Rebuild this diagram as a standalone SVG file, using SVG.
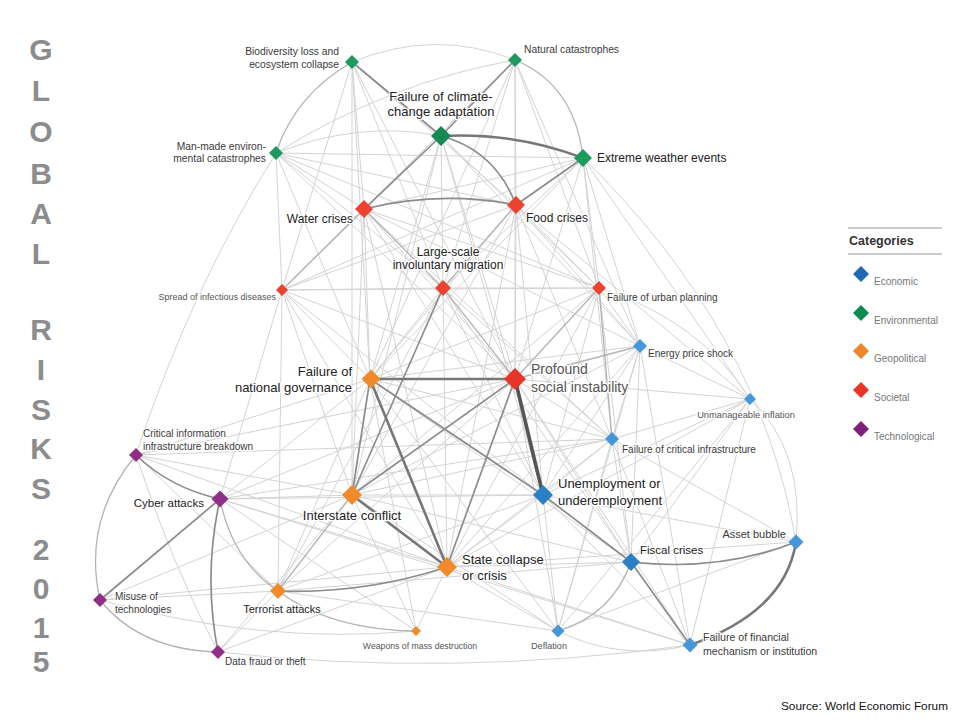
<svg xmlns="http://www.w3.org/2000/svg" width="960" height="720" viewBox="0 0 960 720">
<style>
  text { font-family: "Liberation Sans", Arial, sans-serif; }
  .title { font-size: 30px; font-weight: bold; fill: #8c8c8c; text-anchor: middle; }
  .lb, .lm, .ls, .soc { stroke: #fff; stroke-width: 2.5; stroke-linejoin: round; paint-order: stroke; }
  .lb { font-size: 12.5px; fill: #222; }
  .lm { font-size: 10.3px; fill: #3a3a3a; }
  .ls { font-size: 9px; fill: #555; }
  .soc { font-size: 14px; fill: #555; }
  .env { fill: #1d9a5e; }
  .envd { fill: #128a52; }
  .sct { fill: #ec4331; }
  .geo { fill: #f08a2b; }
  .eco { fill: #2b7fc4; }
  .eco2 { fill: #4597d9; }
  .tec { fill: #902f86; }
  #connectors path { fill: none; }
  .l { stroke: #d3d3d3; stroke-width: 1; }
  .m { stroke: #b3b3b3; stroke-width: 1.3; }
  .d { stroke: #8c8c8c; stroke-width: 1.7; }
  .t { stroke: #777; stroke-width: 2.6; }
  .x { stroke: #555; stroke-width: 3.6; }
  .leg { font-size: 10px; fill: #777; }
</style>

<g id="title">
  <text class="title" x="41" y="60">G</text>
  <text class="title" x="41" y="101">L</text>
  <text class="title" x="41" y="142">O</text>
  <text class="title" x="41" y="184">B</text>
  <text class="title" x="41" y="224">A</text>
  <text class="title" x="41" y="264">L</text>
  <text class="title" x="41" y="340">R</text>
  <text class="title" x="41" y="380">I</text>
  <text class="title" x="41" y="420">S</text>
  <text class="title" x="41" y="459">K</text>
  <text class="title" x="41" y="499">S</text>
  <text class="title" x="41" y="560">2</text>
  <text class="title" x="41" y="599">0</text>
  <text class="title" x="41" y="638">1</text>
  <text class="title" x="41" y="672">5</text>
</g>

<g id="connectors">
  <!-- light -->
  <path class="l" d="M352,62 L364,209"/>
  <path class="l" d="M352,62 L516,205"/>
  <path class="l" d="M352,62 L443,288"/>
  <path class="l" d="M352,62 L370,379"/>
  <path class="l" d="M352,62 L515,379"/>
  <path class="l" d="M352,62 L352,495"/>
  <path class="l" d="M352,62 L282,290"/>
  <path class="l" d="M352,62 Q435,28 515,60"/>
  <path class="l" d="M515,60 Q390,82 276,153"/>
  <path class="l" d="M515,60 L364,209"/>
  <path class="l" d="M515,60 L516,205"/>
  <path class="l" d="M515,60 L443,288"/>
  <path class="l" d="M515,60 L599,288"/>
  <path class="l" d="M515,60 L515,379"/>
  <path class="l" d="M515,60 L282,290"/>
  <path class="l" d="M515,60 L370,379"/>
  <path class="l" d="M515,60 L640,346"/>
  <path class="l" d="M441,136 Q360,120 276,153"/>
  <path class="l" d="M441,136 L443,288"/>
  <path class="l" d="M441,136 L515,379"/>
  <path class="l" d="M441,136 L599,288"/>
  <path class="l" d="M441,136 L282,290"/>
  <path class="l" d="M441,136 L370,379"/>
  <path class="l" d="M441,136 L640,346"/>
  <path class="l" d="M441,136 L352,495"/>
  <path class="l" d="M441,136 L543,495"/>
  <path class="l" d="M583,158 L276,153"/>
  <path class="l" d="M583,158 L364,209"/>
  <path class="l" d="M583,158 L443,288"/>
  <path class="l" d="M583,158 L599,288"/>
  <path class="l" d="M583,158 L640,346"/>
  <path class="l" d="M583,158 L282,290"/>
  <path class="l" d="M583,158 L515,379"/>
  <path class="l" d="M583,158 L612,439"/>
  <path class="l" d="M583,158 L370,379"/>
  <path class="l" d="M583,158 Q760,330 796,542"/>
  <path class="l" d="M583,158 L750,399"/>
  <path class="l" d="M276,153 L364,209"/>
  <path class="l" d="M276,153 L516,205"/>
  <path class="l" d="M276,153 L443,288"/>
  <path class="l" d="M276,153 L282,290"/>
  <path class="l" d="M276,153 L515,379"/>
  <path class="l" d="M276,153 L370,379"/>
  <path class="l" d="M276,153 L599,288"/>
  <path class="l" d="M364,209 L515,379"/>
  <path class="l" d="M364,209 L370,379"/>
  <path class="l" d="M364,209 L352,495"/>
  <path class="l" d="M364,209 L599,288"/>
  <path class="l" d="M364,209 L447,567"/>
  <path class="l" d="M364,209 L543,495"/>
  <path class="l" d="M364,209 L640,346"/>
  <path class="l" d="M364,209 L612,439"/>
  <path class="l" d="M516,205 L515,379"/>
  <path class="l" d="M516,205 L370,379"/>
  <path class="l" d="M516,205 L599,288"/>
  <path class="l" d="M516,205 L640,346"/>
  <path class="l" d="M516,205 L282,290"/>
  <path class="l" d="M516,205 L352,495"/>
  <path class="l" d="M516,205 L447,567"/>
  <path class="l" d="M516,205 L543,495"/>
  <path class="l" d="M516,205 L750,399"/>
  <path class="l" d="M516,205 L612,439"/>
  <path class="l" d="M443,288 L282,290"/>
  <path class="l" d="M443,288 L599,288"/>
  <path class="l" d="M443,288 L370,379"/>
  <path class="l" d="M443,288 L447,567"/>
  <path class="l" d="M443,288 L543,495"/>
  <path class="l" d="M443,288 L278,591"/>
  <path class="l" d="M443,288 L612,439"/>
  <path class="l" d="M443,288 L631,562"/>
  <path class="l" d="M282,290 L370,379"/>
  <path class="l" d="M282,290 L515,379"/>
  <path class="l" d="M282,290 L352,495"/>
  <path class="l" d="M282,290 L278,591"/>
  <path class="l" d="M282,290 L220,499"/>
  <path class="l" d="M282,290 L599,288"/>
  <path class="l" d="M282,290 L543,495"/>
  <path class="l" d="M282,290 L447,567"/>
  <path class="l" d="M599,288 L640,346"/>
  <path class="l" d="M599,288 L543,495"/>
  <path class="l" d="M599,288 L370,379"/>
  <path class="l" d="M599,288 L352,495"/>
  <path class="l" d="M599,288 Q700,320 750,399"/>
  <path class="l" d="M599,288 L631,562"/>
  <path class="l" d="M599,288 L447,567"/>
  <path class="l" d="M640,346 L612,439"/>
  <path class="l" d="M640,346 L750,399"/>
  <path class="l" d="M640,346 L543,495"/>
  <path class="l" d="M640,346 L631,562"/>
  <path class="l" d="M640,346 L558,631"/>
  <path class="l" d="M640,346 L370,379"/>
  <path class="l" d="M640,346 L447,567"/>
  <path class="l" d="M640,346 L690,645"/>
  <path class="l" d="M640,346 L352,495"/>
  <path class="l" d="M370,379 L278,591"/>
  <path class="l" d="M370,379 L220,499"/>
  <path class="l" d="M370,379 L612,439"/>
  <path class="l" d="M370,379 L631,562"/>
  <path class="l" d="M370,379 L416,631"/>
  <path class="l" d="M370,379 L558,631"/>
  <path class="l" d="M370,379 L136,455"/>
  <path class="l" d="M515,379 L612,439"/>
  <path class="l" d="M515,379 L750,399"/>
  <path class="l" d="M515,379 L278,591"/>
  <path class="l" d="M515,379 L631,562"/>
  <path class="l" d="M515,379 L220,499"/>
  <path class="l" d="M515,379 L558,631"/>
  <path class="l" d="M515,379 L690,645"/>
  <path class="l" d="M750,399 L612,439"/>
  <path class="l" d="M750,399 L543,495"/>
  <path class="l" d="M750,399 L631,562"/>
  <path class="l" d="M750,399 Q805,450 796,542"/>
  <path class="l" d="M750,399 L558,631"/>
  <path class="l" d="M750,399 L690,645"/>
  <path class="l" d="M750,399 L447,567"/>
  <path class="l" d="M612,439 L543,495"/>
  <path class="l" d="M612,439 L136,455"/>
  <path class="l" d="M612,439 L220,499"/>
  <path class="l" d="M612,439 L352,495"/>
  <path class="l" d="M612,439 L631,562"/>
  <path class="l" d="M612,439 L558,631"/>
  <path class="l" d="M612,439 L690,645"/>
  <path class="l" d="M612,439 L447,567"/>
  <path class="l" d="M612,439 L796,542"/>
  <path class="l" d="M136,455 L278,591"/>
  <path class="l" d="M136,455 L352,495"/>
  <path class="l" d="M136,455 L447,567"/>
  <path class="l" d="M136,455 Q190,290 276,153"/>
  <path class="l" d="M136,455 L515,379"/>
  <path class="l" d="M136,455 Q170,560 218,652"/>
  <path class="l" d="M220,499 L352,495"/>
  <path class="l" d="M220,499 L447,567"/>
  <path class="l" d="M220,499 L543,495"/>
  <path class="l" d="M220,499 L690,645"/>
  <path class="l" d="M220,499 L416,631"/>
  <path class="l" d="M352,495 L543,495"/>
  <path class="l" d="M352,495 L416,631"/>
  <path class="l" d="M352,495 L100,600"/>
  <path class="l" d="M352,495 L218,652"/>
  <path class="l" d="M352,495 L631,562"/>
  <path class="l" d="M352,495 L558,631"/>
  <path class="l" d="M543,495 L690,645"/>
  <path class="l" d="M543,495 L558,631"/>
  <path class="l" d="M543,495 L796,542"/>
  <path class="l" d="M543,495 L447,567"/>
  <path class="l" d="M543,495 L278,591"/>
  <path class="l" d="M796,542 L447,567"/>
  <path class="l" d="M796,542 Q690,580 558,631"/>
  <path class="l" d="M631,562 L447,567"/>
  <path class="l" d="M631,562 L278,591"/>
  <path class="l" d="M447,567 L416,631"/>
  <path class="l" d="M447,567 L558,631"/>
  <path class="l" d="M447,567 L690,645"/>
  <path class="l" d="M447,567 L218,652"/>
  <path class="l" d="M447,567 L100,600"/>
  <path class="l" d="M100,600 L278,591"/>
  <path class="l" d="M100,600 Q260,645 416,631"/>
  <path class="l" d="M278,591 L218,652"/>
  <path class="l" d="M278,591 L558,631"/>
  <path class="l" d="M558,631 Q620,662 690,645"/>
  <path class="l" d="M218,652 Q450,678 690,645"/>
  <!-- medium -->
  <path class="m" d="M515,60 Q575,85 583,158"/>
  <path class="m" d="M352,62 Q295,95 276,153"/>
  <path class="m" d="M278,591 Q232,560 220,499"/>
  <path class="m" d="M278,591 Q330,630 416,631"/>
  <path class="m" d="M100,600 Q140,650 218,652"/>
  <path class="m" d="M136,455 Q82,520 100,600"/>
  <path class="m" d="M631,562 Q612,615 558,631"/>
  <path class="m" d="M282,290 L364,209"/>
  <path class="m" d="M599,288 L515,379"/>
  <path class="m" d="M640,346 L515,379"/>
  <path class="m" d="M599,288 L612,439"/>
  <path class="m" d="M516,205 L443,288"/>
  <path class="m" d="M364,209 L443,288"/>
  <path class="m" d="M443,288 L515,379"/>
  <path class="m" d="M352,495 L278,591"/>
  <!-- dark -->
  <path class="d" d="M441,136 L364,209"/>
  <path class="d" d="M441,136 Q495,150 516,205"/>
  <path class="d" d="M364,209 Q440,190 516,205"/>
  <path class="d" d="M583,158 L516,205"/>
  <path class="d" d="M443,288 L352,495"/>
  <path class="d" d="M370,379 L352,495"/>
  <path class="d" d="M370,379 L543,495"/>
  <path class="d" d="M515,379 L352,495"/>
  <path class="d" d="M515,379 L447,567"/>
  <path class="d" d="M543,495 L631,562"/>
  <path class="d" d="M631,562 L690,645"/>
  <path class="d" d="M631,562 Q720,572 796,542"/>
  <path class="d" d="M136,455 Q170,488 220,499"/>
  <path class="d" d="M220,499 Q203,575 218,652"/>
  <path class="d" d="M220,499 L100,600"/>
  <path class="d" d="M278,591 Q365,594 447,567"/>
  <path class="d" d="M352,62 L441,136"/>
  <path class="d" d="M515,60 L441,136"/>
  <!-- thick -->
  <path class="t" d="M441,136 Q515,132 583,158"/>
  <path class="t" d="M370,379 L515,379"/>
  <path class="t" d="M352,495 L447,567"/>
  <path class="t" d="M370,379 L447,567"/>
  <path class="t" d="M796,542 Q785,612 690,645"/>
  <path class="x" d="M515,379 L543,495"/>
</g>

<g id="n-bio"><path class="env" d="M352,55 L359,62 L352,69 L345,62 Z"/>
  <text class="lm" text-anchor="end" x="339" y="54.5">Biodiversity loss and</text>
  <text class="lm" text-anchor="end" x="339" y="68">ecosystem collapse</text></g>
<g id="n-nat"><path class="env" d="M515,53 L522,60 L515,67 L508,60 Z"/>
  <text class="lm" x="524" y="53">Natural catastrophes</text></g>
<g id="n-cca"><path class="envd" d="M441,126 L451,136 L441,146 L431,136 Z"/>
  <text class="lb" style="font-size:13px" text-anchor="middle" x="441" y="100.5">Failure of climate-</text>
  <text class="lb" style="font-size:13px" text-anchor="middle" x="441" y="116">change adaptation</text></g>
<g id="n-ext"><path class="env" d="M583,149 L592,158 L583,167 L574,158 Z"/>
  <text class="lb" style="font-size:12px" x="597" y="162">Extreme weather events</text></g>
<g id="n-man"><path class="env" d="M276,146 L283,153 L276,160 L269,153 Z"/>
  <text class="lm" text-anchor="end" x="266" y="150">Man-made environ-</text>
  <text class="lm" text-anchor="end" x="266" y="161.5">mental catastrophes</text></g>
<g id="n-wat"><path class="sct" d="M364,200 L373,209 L364,218 L355,209 Z"/>
  <text class="lb" style="font-size:12px" text-anchor="end" x="353" y="223">Water crises</text></g>
<g id="n-foo"><path class="sct" d="M516,196 L525,205 L516,214 L507,205 Z"/>
  <text class="lb" style="font-size:12px" x="526" y="221.5">Food crises</text></g>
<g id="n-mig"><path class="sct" d="M443,280 L451,288 L443,296 L435,288 Z"/>
  <text class="lb" style="font-size:12px" text-anchor="middle" x="448" y="255.5">Large-scale</text>
  <text class="lb" style="font-size:12px" text-anchor="middle" x="448" y="268.5">involuntary migration</text></g>
<g id="n-inf"><path class="sct" d="M282,284 L288,290 L282,296 L276,290 Z"/>
  <text class="ls" text-anchor="end" x="276" y="300">Spread of infectious diseases</text></g>
<g id="n-urb"><path class="sct" d="M599,281 L606,288 L599,295 L592,288 Z"/>
  <text class="lm" style="font-size:10px" x="607" y="300.5">Failure of urban planning</text></g>
<g id="n-ene"><path class="eco2" d="M640,339 L647,346 L640,353 L633,346 Z"/>
  <text class="lm" style="font-size:10px" x="648" y="357">Energy price shock</text></g>
<g id="n-gov"><path class="geo" d="M371,369.5 L380.5,379 L371,388.5 L361.5,379 Z"/>
  <text class="lb" style="font-size:13px" text-anchor="end" x="352" y="375.5">Failure of</text>
  <text class="lb" style="font-size:13px" text-anchor="end" x="352" y="391.5">national governance</text></g>
<g id="n-soc"><path class="sct" style="fill:#e8352a" d="M515,368 L526,379 L515,390 L504,379 Z"/>
  <text class="soc" x="531" y="374">Profound</text>
  <text class="soc" x="531" y="391.5">social instability</text></g>
<g id="n-inn"><path class="eco2" d="M750,393 L756,399 L750,405 L744,399 Z"/>
  <text class="ls" style="font-size:9.3px" text-anchor="middle" x="746" y="417.5">Unmanageable inflation</text></g>
<g id="n-cri"><path class="eco2" d="M612,432 L619,439 L612,446 L605,439 Z"/>
  <text class="lm" style="font-size:10px" x="622" y="453">Failure of critical infrastructure</text></g>
<g id="n-cii"><path class="tec" d="M136,448 L143,455 L136,462 L129,455 Z"/>
  <text class="lm" style="font-size:10px" x="143" y="437">Critical information</text>
  <text class="lm" style="font-size:10px" x="143" y="449.5">infrastructure breakdown</text></g>
<g id="n-cyb"><path class="tec" d="M220,490.5 L228.5,499 L220,507.5 L211.5,499 Z"/>
  <text class="lb" style="font-size:11.5px" text-anchor="end" x="204" y="507">Cyber attacks</text></g>
<g id="n-int"><path class="geo" d="M352,485 L362,495 L352,505 L342,495 Z"/>
  <text class="lb" style="font-size:13px" text-anchor="middle" x="352" y="519.5">Interstate conflict</text></g>
<g id="n-une"><path class="eco" d="M543,485 L553,495 L543,505 L533,495 Z"/>
  <text class="lb" style="font-size:13px" x="558" y="487.5">Unemployment or</text>
  <text class="lb" style="font-size:13px" x="558" y="504.5">underemployment</text></g>
<g id="n-ass"><path class="eco2" d="M796,534.5 L803.5,542 L796,549.5 L788.5,542 Z"/>
  <text class="lm" style="font-size:11px" text-anchor="end" x="786" y="538">Asset bubble</text></g>
<g id="n-fis"><path class="eco" d="M631,553 L640,562 L631,571 L622,562 Z"/>
  <text class="lb" style="font-size:11.5px" x="640" y="554">Fiscal crises</text></g>
<g id="n-sta"><path class="geo" d="M447,557 L457,567 L447,577 L437,567 Z"/>
  <text class="lb" style="font-size:13px" x="462" y="563.5">State collapse</text>
  <text class="lb" style="font-size:13px" x="462" y="579.5">or crisis</text></g>
<g id="n-mis"><path class="tec" d="M100,593 L107,600 L100,607 L93,600 Z"/>
  <text class="lm" style="font-size:10px" x="115" y="599.5">Misuse of</text>
  <text class="lm" style="font-size:10px" x="115" y="613">technologies</text></g>
<g id="n-ter"><path class="geo" d="M278,583 L286,591 L278,599 L270,591 Z"/>
  <text class="lb" style="font-size:11px" text-anchor="middle" x="282" y="613">Terrorist attacks</text></g>
<g id="n-wmd"><path class="geo" d="M416,626 L421,631 L416,636 L411,631 Z"/>
  <text class="ls" style="font-size:8.7px" text-anchor="middle" x="420" y="648.5">Weapons of mass destruction</text></g>
<g id="n-def"><path class="eco2" d="M558,624.5 L564.5,631 L558,637.5 L551.5,631 Z"/>
  <text class="ls" style="font-size:9.1px" text-anchor="middle" x="549" y="649">Deflation</text></g>
<g id="n-fin"><path class="eco2" d="M690,637.5 L697.5,645 L690,652.5 L682.5,645 Z"/>
  <text class="lm" style="font-size:10.6px" x="703" y="640.5">Failure of financial</text>
  <text class="lm" style="font-size:10.6px" x="703" y="654.5">mechanism or institution</text></g>
<g id="n-dat"><path class="tec" d="M218,645 L225,652 L218,659 L211,652 Z"/>
  <text class="lm" style="font-size:10px" x="225" y="664.5">Data fraud or theft</text></g>

<g id="legend">
  <line x1="848" y1="228" x2="942" y2="228" stroke="#999" stroke-width="1"/>
  <text x="849" y="245" style="font-size:12.5px;font-weight:bold;fill:#333">Categories</text>
  <line x1="848" y1="254" x2="942" y2="254" stroke="#999" stroke-width="1"/>
  <path fill="#2067b5" d="M861,266 L869,274 L861,282 L853,274 Z"/>
  <text class="leg" x="874" y="285">Economic</text>
  <path fill="#0d8a50" d="M861,305 L869,313 L861,321 L853,313 Z"/>
  <text class="leg" x="874" y="324">Environmental</text>
  <path fill="#ec862c" d="M861,343 L869,351 L861,359 L853,351 Z"/>
  <text class="leg" x="874" y="362">Geopolitical</text>
  <path fill="#e9342a" d="M861,382 L869,390 L861,398 L853,390 Z"/>
  <text class="leg" x="874" y="401">Societal</text>
  <path fill="#7c227a" d="M861,421 L869,429 L861,437 L853,429 Z"/>
  <text class="leg" x="874" y="440">Technological</text>
</g>

<text x="781" y="710" style="font-size:11.8px;fill:#111">Source: World Economic Forum</text>
</svg>
